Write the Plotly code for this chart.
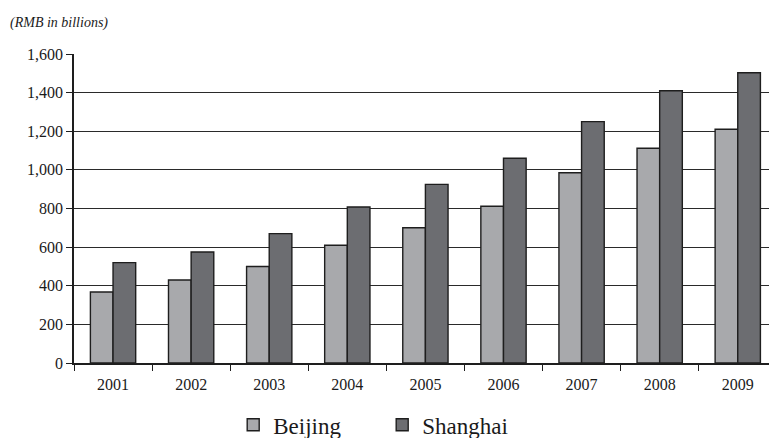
import plotly.graph_objects as go

years = ["2001", "2002", "2003", "2004", "2005", "2006", "2007", "2008", "2009"]
beijing = [368, 430, 500, 610, 700, 812, 985, 1112, 1210]
shanghai = [520, 575, 670, 808, 925, 1060, 1250, 1410, 1503]
y_ticks = [0, 200, 400, 600, 800, 1000, 1200, 1400, 1600]
y_labels = ["0", "200", "400", "600", "800", "1,000", "1,200", "1,400", "1,600"]

W, H = 769, 438
ml, mr, mt, mb = 74, 0, 54, 75

fig = go.Figure()
fig.add_trace(go.Bar(x=years, y=beijing, name="Beijing",
                     marker=dict(color="#a8a9ac", line=dict(color="#1e1e1e", width=1.4))))
fig.add_trace(go.Bar(x=years, y=shanghai, name="Shanghai",
                     marker=dict(color="#6c6d71", line=dict(color="#1e1e1e", width=1.4))))

fig.update_layout(
    width=W, height=H,
    margin=dict(l=ml, r=mr, t=mt, b=mb, autoexpand=False),
    plot_bgcolor="white", paper_bgcolor="white",
    barmode="group", bargap=0.42, bargroupgap=0,
    font=dict(family="Liberation Serif, Times New Roman, serif", color="#1a1a1a", size=16),
    legend=dict(orientation="h", x=0.497, xanchor="center", xref="container",
                y=0.03, yanchor="middle", yref="container",
                font=dict(size=23), traceorder="normal", entrywidth=104,
                bgcolor="rgba(0,0,0,0)"),
    showlegend=True,
)
fig.update_xaxes(
    type="category", range=[-0.5, 8.4],
    showline=True, linecolor="#1e1e1e", linewidth=1.5,
    ticks="outside", tickson="boundaries", ticklen=6, tickcolor="#1e1e1e", tickwidth=1.2,
    showgrid=False, tickfont=dict(size=16), ticklabelstandoff=6,
)
fig.update_yaxes(
    range=[0, 1600], tickvals=y_ticks, ticktext=y_labels,
    showline=True, linecolor="#1e1e1e", linewidth=1.5,
    ticks="outside", ticklen=6, tickcolor="#1e1e1e", tickwidth=1.2,
    showgrid=True, gridcolor="#2a2a2a", gridwidth=1.3,
    zeroline=False, tickfont=dict(size=16),
)
plot_h = H - mt - mb
plot_w = W - ml - mr
fig.add_annotation(
    text="<i>(RMB in billions)</i>", xref="paper", yref="paper",
    x=(8 - ml) / plot_w, y=(H - mb - 23) / plot_h, xanchor="left", yanchor="middle",
    showarrow=False, font=dict(size=14, family="Liberation Serif, serif", color="#1a1a1a"),
)
fig.write_html("out.html")
